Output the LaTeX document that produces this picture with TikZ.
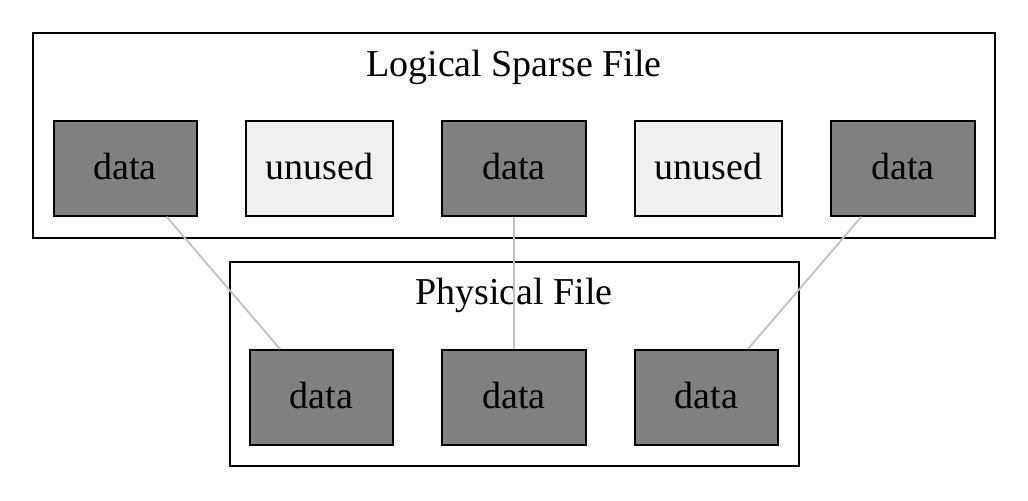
\documentclass[tikz,border=0pt]{standalone}
\usepackage{fontspec}
\setmainfont{Liberation Serif}
\usepackage{xcolor}
\usetikzlibrary{positioning}
\definecolor{blockgray}{HTML}{808080}
\definecolor{emptygray}{HTML}{F0F0F0}
\definecolor{linkgray}{HTML}{C0C0C0}
\tikzset{
   frame/.style={draw=black, line width=1pt, rectangle, inner sep=0pt},
   block/.style={draw=black, line width=1pt, rectangle, minimum height=47.4pt,
                 text height=11.4pt, text depth=0pt},
   datablock/.style={block, fill=blockgray, minimum width=71.7pt},
   freeblock/.style={block, fill=emptygray, minimum width=73.7pt},
   link/.style={draw=linkgray, line width=0.9pt}
}
\tikzstyle{title} = [anchor=base]

\begin{document}
\begin{tikzpicture}[font=\fontsize{19pt}{22pt}\selectfont]
\useasboundingbox (0pt,0pt) rectangle (514pt,-250pt);
% frames
\node[frame, minimum width=481pt, minimum height=102.5pt] (logical) at (257pt,-67.75pt) {};
\node[frame, minimum width=284.5pt, minimum height=102.15pt] (physical) at (257pt,-181.9pt) {};
\node[title] (ltitle) at (257pt,-38.4pt) {Logical Sparse File};
\node[title] (ptitle) at (257pt,-152pt) {Physical File};
% logical file
\node[datablock] (d3) at (257pt,-84.2pt) {data};
\node[freeblock, left=23.5pt of d3] (u2) {unused};
\node[datablock, left=23.5pt of u2] (d1) {data};
\node[freeblock, right=23.5pt of d3] (u4) {unused};
\node[datablock, right=23.5pt of u4] (d5) {data};
% physical file
\node[datablock] (p2) at (257pt,-198.75pt) {data};
\node[datablock, left=23.5pt of p2] (p1) {data};
\node[datablock, right=23.5pt of p2] (p3) {data};
% mapping
\draw[link] (d1) -- (p1);
\draw[link] (d3) -- (p2);
\draw[link] (d5) -- (p3);
\end{tikzpicture}
\end{document}
